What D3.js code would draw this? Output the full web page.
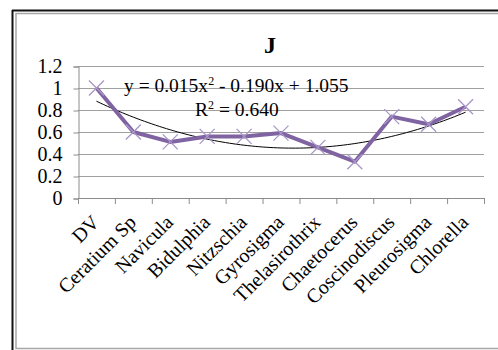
<!DOCTYPE html>
<html>
<head>
<meta charset="utf-8">
<script src="https://cdn.jsdelivr.net/npm/d3@7"></script>
<style>
  body { margin: 0; background: #fff; }
  svg { display: block; font-family: "Liberation Serif", "Times New Roman", serif; }
</style>
</head>
<body>
<svg id="chart" width="498" height="350"></svg>
<script>
// species along the x axis
var categories = ["DV", "Ceratium Sp", "Navicula", "Bidulphia", "Nitzschia", "Gyrosigma",
                  "Thelasirothrix", "Chaetocerus", "Coscinodiscus", "Pleurosigma", "Chlorella"];
var values = [1.0, 0.60, 0.51, 0.56, 0.56, 0.59, 0.46, 0.33, 0.74, 0.67, 0.83];
var yTicks = [0, 0.2, 0.4, 0.6, 0.8, 1, 1.2];
// trendline coefficients as printed on the chart
var trendCoef = [0.015, -0.190, 1.055];

var svg = d3.select("#chart");

// outer frame (dark left/top edge with a grey inner line)
svg.append("path").attr("d", "M498,13.5H16V348.5H498")
    .attr("fill", "none").attr("stroke", "#a6a6a6").attr("stroke-width", 1.5);
svg.append("line").attr("x1", 12.5).attr("y1", 10).attr("x2", 12.5).attr("y2", 350)
    .attr("stroke", "#111").attr("stroke-width", 2);
svg.append("line").attr("x1", 12).attr("y1", 10.5).attr("x2", 498).attr("y2", 10.5)
    .attr("stroke", "#111").attr("stroke-width", 2);

var x = d3.scaleBand().domain(categories).range([78, 484]);
var y = d3.scaleLinear().domain([0, 1.2]).range([198, 66]);

// gridlines
svg.selectAll(".grid").data(yTicks.slice(1)).join("line")
    .attr("class", "grid")
    .attr("x1", 78).attr("x2", 484)
    .attr("y1", d => y(d) + 0.5).attr("y2", d => y(d) + 0.5)
    .attr("stroke", "#a0a0a0").attr("stroke-width", 1.2);

// y axis
var yAxis = svg.append("g").attr("transform", "translate(78.5,0.5)")
    .call(d3.axisLeft(y).tickValues(yTicks).tickSize(5).tickFormat(d3.format("")));
yAxis.select(".domain").attr("stroke", "#8c8c8c");
yAxis.selectAll(".tick line").attr("stroke", "#8c8c8c");
yAxis.selectAll("text").attr("font-size", 20).attr("fill", "#000")
    .attr("font-family", "Liberation Serif").attr("x", -16);

// x axis
var xAxis = svg.append("g").attr("transform", "translate(0,198.5)")
    .call(d3.axisBottom(x).tickSizeOuter(0).tickSize(0));
xAxis.select(".domain").attr("stroke", "#8c8c8c").attr("d", "M78,0H484");
xAxis.selectAll(".tick line").remove();
svg.append("g").selectAll("line")
    .data(d3.range(categories.length + 1)).join("line")
    .attr("x1", i => 78.5 + i * x.step()).attr("x2", i => 78.5 + i * x.step())
    .attr("y1", 198).attr("y2", 204)
    .attr("stroke", "#8c8c8c");
xAxis.selectAll("text")
    .attr("font-size", 20).attr("fill", "#000").attr("font-family", "Liberation Serif")
    .attr("text-anchor", "end").attr("dy", 0).attr("y", 0)
    .attr("transform", "translate(4,25) rotate(-45)");

// trendline
var trend = d3.range(1, 11.01, 0.1).map(t => ({ t: t, v: trendCoef[0] * t * t + trendCoef[1] * t + trendCoef[2] }));
var xt = d3.scaleLinear().domain([1, 11]).range([x(categories[0]) + x.bandwidth() / 2, x(categories[10]) + x.bandwidth() / 2]);
svg.append("path").datum(trend)
    .attr("d", d3.line().x(d => xt(d.t)).y(d => y(d.v)))
    .attr("fill", "none").attr("stroke", "#000").attr("stroke-width", 1);

// data line
var pts = categories.map((c, i) => ({ c: c, v: values[i] }));
svg.append("path").datum(pts)
    .attr("d", d3.line().x(d => x(d.c) + x.bandwidth() / 2).y(d => y(d.v)))
    .attr("fill", "none").attr("stroke", "#8064a2").attr("stroke-width", 4)
    .attr("stroke-linejoin", "round");

// x markers
var m = 7.5;
var mk = svg.append("g").selectAll("g").data(pts).join("g")
    .attr("transform", d => `translate(${x(d.c) + x.bandwidth() / 2},${y(d.v)})`);
mk.append("path").attr("d", `M${-m},${-m}L${m},${m}M${-m},${m}L${m},${-m}`)
    .attr("stroke", "#a896c8").attr("stroke-width", 1.3);

// title
svg.append("text").attr("x", 270).attr("y", 53).attr("text-anchor", "middle")
    .attr("font-size", 24).attr("font-weight", "bold").text("J");

// equation labels
var eq = svg.append("text").attr("x", 124).attr("y", 92).attr("font-size", 19.5);
eq.append("tspan").text("y = 0.015x");
eq.append("tspan").attr("font-size", 12).attr("dy", -7).text("2");
eq.append("tspan").attr("dy", 7).text(" - 0.190x + 1.055");
var r2 = svg.append("text").attr("x", 195).attr("y", 116).attr("font-size", 19.5);
r2.append("tspan").text("R");
r2.append("tspan").attr("font-size", 12).attr("dy", -7).text("2");
r2.append("tspan").attr("dy", 7).text(" = 0.640");
</script>
</body>
</html>
